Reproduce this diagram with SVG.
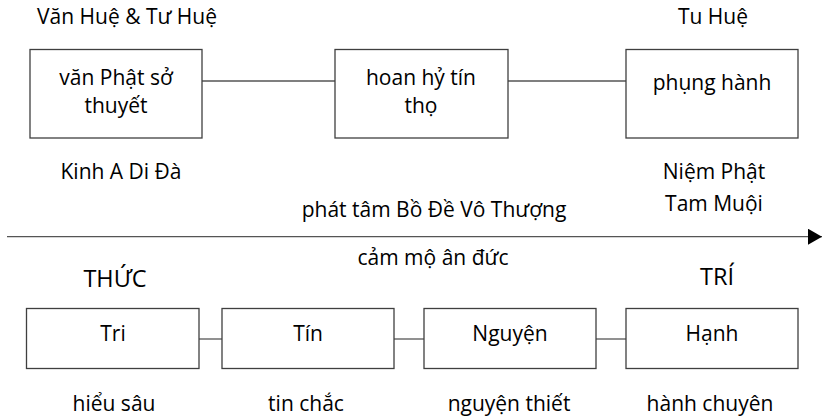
<svg xmlns="http://www.w3.org/2000/svg" width="822" height="417" viewBox="0 0 822 417">
<defs>
<style>
text{font-family:"Open Sans","Noto Sans","DejaVu Sans",sans-serif;font-size:21px;fill:#000;text-anchor:middle}
.big{font-size:23.5px}
.box{fill:#fff;stroke:#3f3f3f;stroke-width:1.3}
.conn{stroke:#555;stroke-width:1.3;fill:none}
</style>
<marker id="arr" markerWidth="14" markerHeight="16" refX="14" refY="8" orient="auto" markerUnits="userSpaceOnUse">
<path d="M0,0 L14,8 L0,16 Z" fill="#000"/>
</marker>
</defs>
<rect width="822" height="417" fill="#fff"/>
<g id="connectors">
<line class="conn" x1="202" y1="81" x2="335" y2="81"/>
<line class="conn" x1="508" y1="81" x2="626" y2="81"/>
<line class="conn" x1="199" y1="339" x2="222" y2="339"/>
<line class="conn" x1="394" y1="339" x2="424" y2="339"/>
<line class="conn" x1="596" y1="339" x2="626" y2="339"/>
<line class="conn" x1="7" y1="236.7" x2="822" y2="236.7" marker-end="url(#arr)"/>
</g>
<g id="labels">
<text x="127" y="24">Văn Huệ &amp; Tư Huệ</text>
<text x="713" y="24">Tu Huệ</text>
<text x="121" y="179">Kinh A Di Đà</text>
<text x="714" y="179">Niệm Phật</text>
<text x="714" y="211">Tam Muội</text>
<text x="434" y="217">phát tâm Bồ Đề Vô Thượng</text>
<text x="433" y="265">cảm mộ ân đức</text>
<text class="big" x="115" y="287">THỨC</text>
<text class="big" x="717" y="285">TRÍ</text>
<text x="114" y="411">hiểu sâu</text>
<text x="306" y="411">tin chắc</text>
<text x="509" y="411">nguyện thiết</text>
<text x="710" y="411">hành chuyên</text>
</g>
<g id="n1">
<rect class="box" x="30" y="49.5" width="172" height="88.5"/>
<text x="116" y="85">văn Phật sở</text>
<text x="116" y="113">thuyết</text>
</g>
<g id="n2">
<rect class="box" x="335" y="49.5" width="173" height="88.5"/>
<text x="421" y="85">hoan hỷ tín</text>
<text x="421" y="113">thọ</text>
</g>
<g id="n3">
<rect class="box" x="626" y="49.5" width="172" height="88.5"/>
<text x="712" y="90">phụng hành</text>
</g>
<g id="n4">
<rect class="box" x="26.5" y="308.5" width="172.5" height="60"/>
<text x="113" y="341">Tri</text>
</g>
<g id="n5">
<rect class="box" x="222" y="308.5" width="172" height="60"/>
<text x="308" y="341">Tín</text>
</g>
<g id="n6">
<rect class="box" x="424" y="308.5" width="172" height="60"/>
<text x="510" y="341">Nguyện</text>
</g>
<g id="n7">
<rect class="box" x="626" y="308.5" width="172" height="60"/>
<text x="712" y="341">Hạnh</text>
</g>
</svg>
